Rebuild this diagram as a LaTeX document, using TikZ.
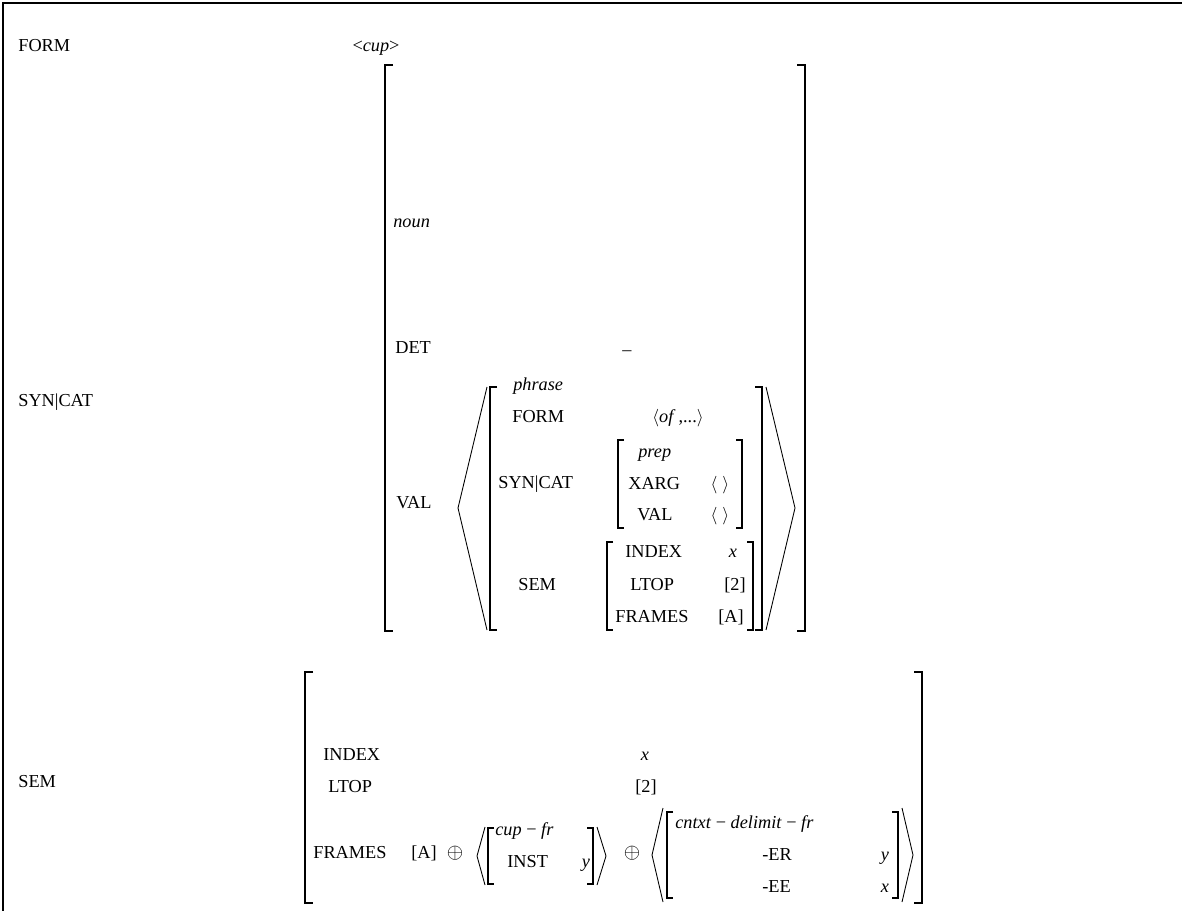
\documentclass[tikz,border=0pt]{standalone}
\usepackage{fontspec}
\setmainfont{Liberation Serif}

\begin{document}
\begin{tikzpicture}[x=0.02cm,y=-0.02cm,
                    every node/.style={inner sep=0pt,anchor=west,
                      font=\fontsize{10.4}{12}\selectfont,text height=7pt,text depth=1.2pt},
                    mid/.style={anchor=center},
                    brk/.style={line width=0.65pt},
                    ang/.style={line width=0.5pt}]
  \useasboundingbox (0,0) rectangle (1182,911);
  \draw[line width=1.2pt] (3,911) -- (3,3) -- (1182,3);

  %top level%
  \node (form) at (18,46) {FORM};
  \node[mid] (cupval) at (376,46) {<\textit{cup}>};
  \node (syncat) at (18,401) {SYN|CAT};
  \node (sem) at (18,782) {SEM};

  %SYN|CAT value%
  \draw[brk] (393,65) -| (385,631) -- ++(8,0);
  \draw[brk] (797,65) -| (805,631) -- ++(-8,0);
  \node (noun) at (393,222) {\textit{noun}};
  \node (det) at (395,348) {DET};
  \node[mid] (detval) at (627,350) {–};
  \node (val) at (396,503) {VAL};

  \draw[ang] (487,387) -- (458,508) -- (487,630);
  \draw[ang] (766,387) -- (795,508) -- (766,630);
  \draw[brk] (497,387) -| (490,630) -- ++(7,0);
  \draw[brk] (755,387) -| (762,630) -- ++(-7,0);
  \node (phrase) at (513,385) {\textit{phrase}};
  \node (vform) at (512,417) {FORM};
  \node[mid] (ofval) at (678,417) {$\langle$\textit{of}\,,...$\rangle$};
  \node (vsyncat) at (498,483) {SYN|CAT};

  \draw[brk] (624,440) -| (618,528) -- ++(6,0);
  \draw[brk] (736,440) -| (742,528) -- ++(-6,0);
  \node (prep) at (638,452) {\textit{prep}};
  \node (xarg) at (628,484) {XARG};
  \node[mid] (xargval) at (720,484) {$\langle\;\rangle$};
  \node (vval) at (637,515) {VAL};
  \node[mid] (vvalval) at (720,515) {$\langle\;\rangle$};

  \node (vsem) at (518,585) {SEM};
  \draw[brk] (613,542) -| (607,630) -- ++(6,0);
  \draw[brk] (747,542) -| (753,630) -- ++(-6,0);
  \node (vindex) at (625,552) {INDEX};
  \node[mid] (vindexval) at (733,552) {\textit{x}};
  \node (vltop) at (630,585) {LTOP};
  \node[mid] (vltopval) at (735,585) {[2]};
  \node (vframes) at (615,617) {FRAMES};
  \node[mid] (vframesval) at (731,617) {[A]};

  %SEM value%
  \draw[brk] (313,672) -| (305,903) -- ++(8,0);
  \draw[brk] (914,672) -| (922,903) -- ++(-8,0);
  \node (index) at (323,755) {INDEX};
  \node[mid] (indexval) at (645,755) {\textit{x}};
  \node (ltop) at (328,787) {LTOP};
  \node[mid] (ltopval) at (646,787) {[2]};
  \node (frames) at (313,853) {FRAMES};
  \node[mid] (framesa) at (424,853) {[A]};
  \node[mid] (oplusa) at (455,853) {\large$\oplus$};

  \draw[ang] (485,827) -- (477,856) -- (485,885);
  \draw[ang] (597,827) -- (606,856) -- (597,885);
  \draw[brk] (494,828) -| (488,884) -- ++(6,0);
  \draw[brk] (587,828) -| (593,884) -- ++(-6,0);
  \node (cupfr) at (495,830) {\textit{cup} − \textit{fr}};
  \node (inst) at (507,862) {INST};
  \node[mid] (instval) at (586,862) {\textit{y}};

  \node[mid] (oplusb) at (632,853) {\large$\oplus$};
  \draw[ang] (663,808) -- (652,855) -- (663,902);
  \draw[ang] (902,808) -- (913,855) -- (902,902);
  \draw[brk] (673,812) -| (667,898) -- ++(6,0);
  \draw[brk] (892,812) -| (898,898) -- ++(-6,0);
  \node (cdf) at (675,823) {\textit{cntxt} − \textit{delimit} − \textit{fr}};
  \node (er) at (762,855) {-ER};
  \node[mid] (erval) at (885,855) {\textit{y}};
  \node (ee) at (762,887) {-EE};
  \node[mid] (eeval) at (885,887) {\textit{x}};
\end{tikzpicture}
\end{document}
